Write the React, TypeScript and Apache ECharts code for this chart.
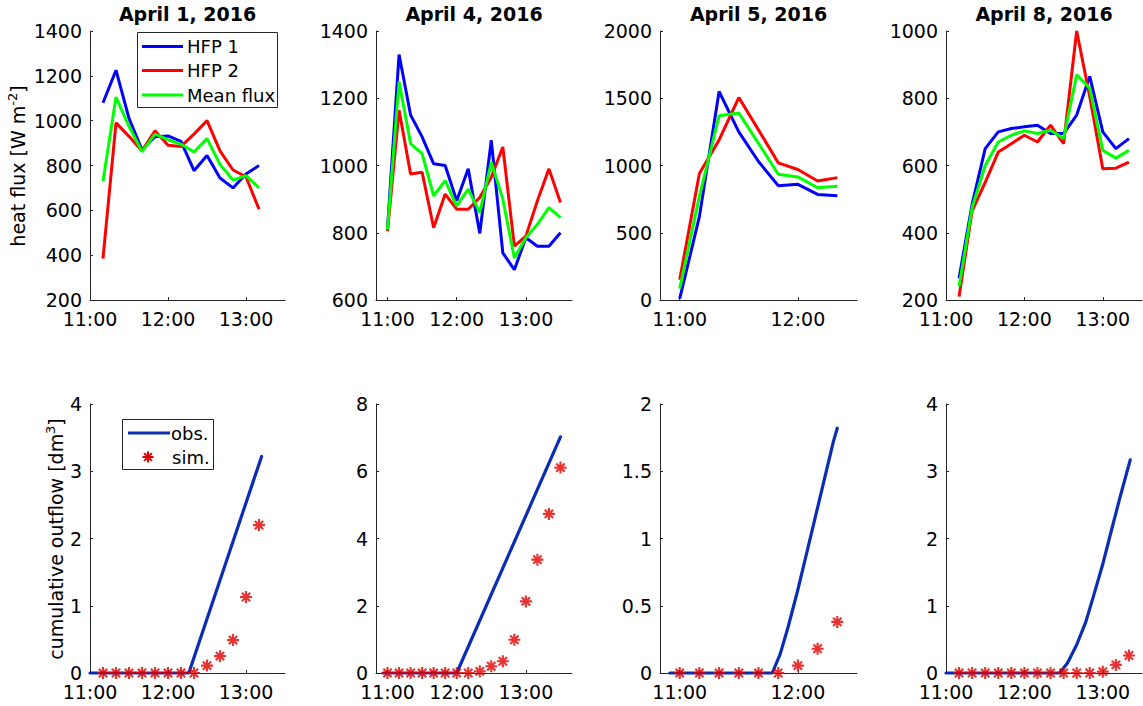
import { useEffect, useRef } from 'react';
import * as echarts from 'echarts';

const FONT = 'DejaVu Sans';

// ---- April 1, 2016 ----
const apr1Times = ['11:10', '11:20', '11:30', '11:40', '11:50', '12:00', '12:10', '12:20', '12:30', '12:40', '12:50', '13:00', '13:10'];
const apr1Hfp1 = [1080, 1225, 1010, 870, 928, 932, 908, 777, 845, 744, 700, 762, 800];
const apr1Hfp2 = [385, 990, 930, 865, 955, 890, 885, 940, 1000, 865, 780, 750, 605];
const apr1Mean = [730, 1105, 975, 862, 940, 915, 895, 860, 920, 805, 735, 755, 700];
const apr1ObsTimes = ['11:00', '12:16', '13:12'];
const apr1Obs = [0, 0, 3.22];
const apr1Sim = [0, 0, 0, 0, 0, 0, 0, 0, 0.11, 0.25, 0.49, 1.13, 2.2];

// ---- April 4, 2016 ----
const apr4Times = ['11:00', '11:10', '11:20', '11:30', '11:40', '11:50', '12:00', '12:10', '12:20', '12:30', '12:40', '12:50', '13:00', '13:10', '13:20', '13:30'];
const apr4Hfp1 = [815, 1330, 1150, 1085, 1005, 1000, 895, 990, 798, 1075, 740, 690, 785, 760, 760, 800];
const apr4Hfp2 = [805, 1165, 975, 980, 815, 915, 870, 870, 905, 965, 1055, 760, 790, 895, 990, 890];
const apr4Mean = [810, 1250, 1065, 1035, 910, 955, 880, 930, 860, 1010, 900, 725, 785, 825, 875, 845];
const apr4ObsTimes = ['10:56', '12:00', '13:30'];
const apr4Obs = [0, 0, 7.02];
const apr4Sim = [0, 0, 0, 0, 0, 0, 0, 0, 0.05, 0.2, 0.35, 0.99, 2.13, 3.37, 4.73, 6.11];

// ---- April 5, 2016 ----
const apr5Times = ['11:00', '11:10', '11:20', '11:30', '11:40', '11:50', '12:00', '12:10', '12:20'];
const apr5Hfp1 = [10, 620, 1550, 1250, 1030, 850, 860, 785, 775];
const apr5Hfp2 = [150, 940, 1190, 1505, 1265, 1020, 970, 885, 910];
const apr5Mean = [85, 770, 1370, 1390, 1165, 935, 915, 835, 845];
const apr5ObsTimes = ['10:55', '11:47', '11:51', '11:55', '12:00', '12:10', '12:18', '12:20'];
const apr5Obs = [0, 0, 0.14, 0.34, 0.62, 1.23, 1.72, 1.82];
const apr5Sim = [0, 0, 0, 0, 0, 0, 0.055, 0.18, 0.38];

// ---- April 8, 2016 ----
const apr8Times = ['11:10', '11:20', '11:30', '11:40', '11:50', '12:00', '12:10', '12:20', '12:30', '12:40', '12:50', '13:00', '13:10', '13:20'];
const apr8Hfp1 = [265, 485, 650, 700, 710, 715, 720, 695, 695, 750, 865, 700, 650, 680];
const apr8Hfp2 = [210, 465, 550, 640, 665, 690, 670, 720, 665, 1000, 805, 590, 592, 610];
const apr8Mean = [240, 475, 600, 670, 690, 703, 695, 705, 680, 870, 830, 645, 622, 645];
const apr8ObsTimes = ['11:00', '12:27', '12:33', '12:40', '12:47', '12:53', '13:00', '13:05', '13:13', '13:21'];
const apr8Obs = [0, 0, 0.15, 0.42, 0.76, 1.15, 1.62, 2.0, 2.6, 3.17];
const apr8Sim = [0, 0, 0, 0, 0, 0, 0, 0, 0, 0, 0, 0.02, 0.12, 0.26];

const dayTitles = ['April 1, 2016', 'April 4, 2016', 'April 5, 2016', 'April 8, 2016'];
const timeRanges = [['11:00', '13:30'], ['10:50', '13:40'], ['10:50', '12:30'], ['11:00', '13:30']];
const timeTicks = [['11:00', '12:00', '13:00'], ['11:00', '12:00', '13:00'], ['11:00', '12:00'], ['11:00', '12:00', '13:00']];
const fluxRanges = [[200, 1400, 200], [600, 1400, 200], [0, 2000, 500], [200, 1000, 200]];
const outflowRanges = [[0, 4, 1], [0, 8, 2], [0, 2, 0.5], [0, 4, 1]];

const fluxTimes = [apr1Times, apr4Times, apr5Times, apr8Times];
const hfp1 = [apr1Hfp1, apr4Hfp1, apr5Hfp1, apr8Hfp1];
const hfp2 = [apr1Hfp2, apr4Hfp2, apr5Hfp2, apr8Hfp2];
const meanFlux = [apr1Mean, apr4Mean, apr5Mean, apr8Mean];
const obsTimes = [apr1ObsTimes, apr4ObsTimes, apr5ObsTimes, apr8ObsTimes];
const obsValues = [apr1Obs, apr4Obs, apr5Obs, apr8Obs];
const simValues = [apr1Sim, apr4Sim, apr5Sim, apr8Sim];

const toMin = (s: string) => {
  const [h, m] = s.split(':').map(Number);
  return h * 60 + m;
};
const fmtTime = (v: number) => `${Math.floor(v / 60)}:${String(Math.round(v % 60)).padStart(2, '0')}`;
const pairs = (times: string[], vals: number[]) => times.map((t, k) => [toMin(t), vals[k]]);

// layout
const lefts = [90, 376, 660, 946];
const widths = [195, 196, 197, 196];
const TOP_ROW = 31;
const BOTTOM_ROW = 404;
const PANEL_H = 269;

const AXIS_COLOR = '#262626';
const BLUE = '#0000ff';
const RED = '#ff0000';
const GREEN = '#00ff00';
const OBS = '#0a2db4';
const SIM = '#e00000';

const ASTERISK =
  'path://M0,8.2H20V11.8H0Z M8.2,0H11.8V20H8.2Z M4.3,1.8L18.2,15.7L15.7,18.2L1.8,4.3Z M15.7,1.8L18.2,4.3L4.3,18.2L1.8,15.7Z';

function buildOption() {
  const grid: any[] = [];
  const xAxis: any[] = [];
  const yAxis: any[] = [];
  const series: any[] = [];
  const graphic: any[] = [];

  const makeX = (i: number, gi: number) => {
    const ticks = timeTicks[i].map(toMin);
    return {
      type: 'value',
      gridIndex: gi,
      min: toMin(timeRanges[i][0]),
      max: toMin(timeRanges[i][1]),
      axisLine: { show: true, lineStyle: { color: AXIS_COLOR, width: 1 } },
      axisTick: { show: true, inside: true, length: 3, customValues: ticks, lineStyle: { color: AXIS_COLOR } },
      axisLabel: {
        customValues: ticks,
        formatter: (v: number) => fmtTime(v),
        fontFamily: FONT,
        fontSize: 19,
        color: '#000',
        margin: 9,
      },
      splitLine: { show: false },
    };
  };
  const makeY = (range: number[], gi: number) => ({
    type: 'value',
    gridIndex: gi,
    min: range[0],
    max: range[1],
    interval: range[2],
    axisLine: { show: true, lineStyle: { color: AXIS_COLOR, width: 1 } },
    axisTick: { show: true, inside: true, length: 3, lineStyle: { color: AXIS_COLOR } },
    axisLabel: {
      fontFamily: FONT,
      fontSize: 19,
      color: '#000',
      margin: 8,
      formatter: (v: number) => String(v),
    },
    splitLine: { show: false },
  });

  for (let i = 0; i < 4; i++) {
    // heat flux panel
    const gTop = grid.length;
    grid.push({ left: lefts[i], top: TOP_ROW, width: widths[i], height: PANEL_H });
    xAxis.push(makeX(i, gTop));
    yAxis.push(makeY(fluxRanges[i], gTop));
    const fluxSeries: [string, number[], string][] = [
      ['HFP 1', hfp1[i], BLUE],
      ['HFP 2', hfp2[i], RED],
      ['Mean flux', meanFlux[i], GREEN],
    ];
    fluxSeries.forEach(([name, vals, color]) => {
      series.push({
        name,
        type: 'line',
        xAxisIndex: gTop,
        yAxisIndex: gTop,
        data: pairs(fluxTimes[i], vals),
        showSymbol: false,
        symbol: 'none',
        clip: false,
        lineStyle: { color, width: 3 },
        itemStyle: { color },
      });
    });

    // cumulative outflow panel
    const gBot = grid.length;
    grid.push({ left: lefts[i], top: BOTTOM_ROW, width: widths[i], height: PANEL_H });
    xAxis.push(makeX(i, gBot));
    yAxis.push(makeY(outflowRanges[i], gBot));
    series.push({
      name: 'obs.',
      type: 'line',
      xAxisIndex: gBot,
      yAxisIndex: gBot,
      data: pairs(obsTimes[i], obsValues[i]),
      showSymbol: false,
      symbol: 'none',
      clip: false,
      lineStyle: { color: OBS, width: 3.2, join: 'round', cap: 'round' },
      itemStyle: { color: OBS },
    });
    series.push({
      name: 'sim.',
      type: 'scatter',
      xAxisIndex: gBot,
      yAxisIndex: gBot,
      data: pairs(fluxTimes[i], simValues[i]),
      symbol: ASTERISK,
      symbolSize: 12,
      clip: false,
      itemStyle: { color: SIM },
      z: 5,
    });

    graphic.push({
      type: 'text',
      x: lefts[i] + widths[i] / 2,
      y: 14,
      style: {
        text: dayTitles[i],
        font: `bold 19px "${FONT}"`,
        fill: '#000',
        align: 'center',
        verticalAlign: 'middle',
      },
    });
  }

  // y axis names
  const axisName = (x: number, y: number, main: string, sup: string) => ({
    type: 'text',
    x,
    y,
    rotation: Math.PI / 2,
    style: {
      text: `{a|${main}}{s|${sup}}{a|]}`,
      align: 'center',
      verticalAlign: 'middle',
      fill: '#000',
      rich: {
        a: { fontFamily: FONT, fontSize: 19, lineHeight: 24, fill: '#000' },
        s: { fontFamily: FONT, fontSize: 13, lineHeight: 14, verticalAlign: 'top', fill: '#000' },
      },
    },
  });
  graphic.push(axisName(18, 166, 'heat flux [W m', '-2'));
  graphic.push(axisName(56, 539, 'cumulative outflow [dm', '3'));

  // heat flux legend
  const legRows: [string, string, number][] = [
    ['HFP 1', BLUE, 46.5],
    ['HFP 2', RED, 70.5],
    ['Mean flux', GREEN, 95],
  ];
  graphic.push({
    type: 'rect',
    shape: { x: 137.5, y: 32.5, width: 140, height: 75 },
    style: { fill: '#fff', stroke: AXIS_COLOR, lineWidth: 1 },
    z: 10,
  });
  legRows.forEach(([label, color, y]) => {
    graphic.push({
      type: 'line',
      shape: { x1: 142, y1: y, x2: 183, y2: y },
      style: { stroke: color, lineWidth: 3 },
      z: 11,
    });
    graphic.push({
      type: 'text',
      x: 187,
      y,
      style: { text: label, font: `18px "${FONT}"`, fill: '#000', align: 'left', verticalAlign: 'middle' },
      z: 11,
    });
  });

  // outflow legend
  graphic.push({
    type: 'rect',
    shape: { x: 122.5, y: 419.5, width: 91, height: 50 },
    style: { fill: '#fff', stroke: AXIS_COLOR, lineWidth: 1 },
    z: 10,
  });
  graphic.push({
    type: 'line',
    shape: { x1: 128, y1: 433, x2: 170, y2: 433 },
    style: { stroke: OBS, lineWidth: 3.2 },
    z: 11,
  });
  graphic.push({
    type: 'text',
    x: 171,
    y: 433,
    style: { text: 'obs.', font: `18px "${FONT}"`, fill: '#000', align: 'left', verticalAlign: 'middle' },
    z: 11,
  });
  const ax = 148;
  const ay = 457;
  const r = 5.5;
  const d = 3.9;
  [
    [ax - r, ay, ax + r, ay],
    [ax, ay - r, ax, ay + r],
    [ax - d, ay - d, ax + d, ay + d],
    [ax - d, ay + d, ax + d, ay - d],
  ].forEach(([x1, y1, x2, y2]) => {
    graphic.push({
      type: 'line',
      shape: { x1, y1, x2, y2 },
      style: { stroke: SIM, lineWidth: 2 },
      z: 11,
    });
  });
  graphic.push({
    type: 'text',
    x: 172,
    y: 457,
    style: { text: 'sim.', font: `18px "${FONT}"`, fill: '#000', align: 'left', verticalAlign: 'middle' },
    z: 11,
  });

  return {
    animation: false,
    backgroundColor: '#ffffff',
    textStyle: { fontFamily: FONT },
    grid,
    xAxis,
    yAxis,
    series,
    graphic,
  };
}

export default function App() {
  const ref = useRef<HTMLDivElement>(null);
  useEffect(() => {
    if (!ref.current) return;
    const chart = echarts.init(ref.current, undefined, { renderer: 'svg' });
    chart.setOption(buildOption() as any);
    return () => chart.dispose();
  }, []);
  return (
    <div
      ref={ref}
      style={{ position: 'absolute', left: 0, top: 0, width: 1143, height: 706, background: '#fff' }}
    />
  );
}
